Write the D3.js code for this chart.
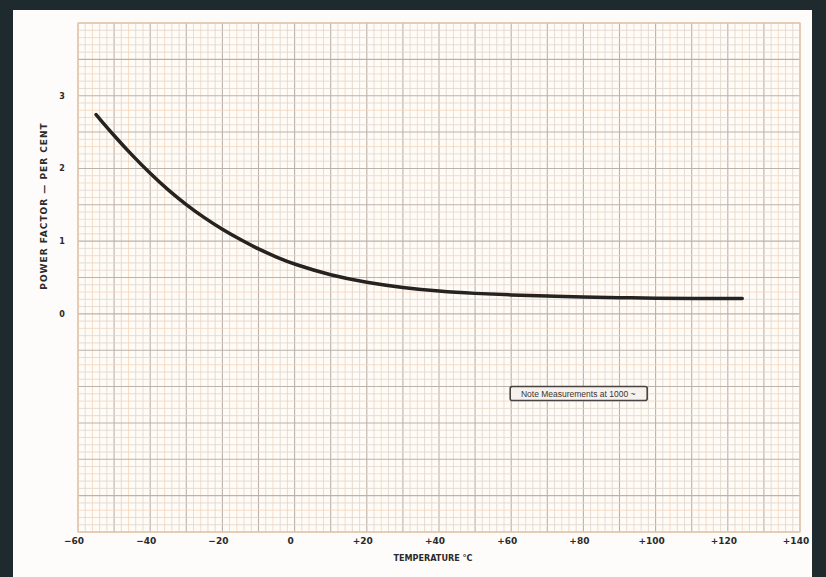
<!DOCTYPE html>
<html>
<head>
<meta charset="utf-8">
<script src="https://cdn.jsdelivr.net/npm/d3@7"></script>
<style>
  body { margin: 0; background: #1f2a2e; }
  svg { display: block; }
</style>
</head>
<body>
<svg id="chart"></svg>
<script>
// chart values
const temps = [-55, -50, -45, -40, -35, -30, -25, -20, -15, -10, -5, 0, 10, 20, 30, 40, 50, 60, 70, 80, 90, 100, 110, 124];
const powerFactor = [2.74, 2.45, 2.18, 1.93, 1.70, 1.50, 1.32, 1.16, 1.02, 0.89, 0.78, 0.68, 0.53, 0.43, 0.36, 0.31, 0.28, 0.26, 0.245, 0.23, 0.222, 0.216, 0.212, 0.21];
const xTicks = [-60, -40, -20, 0, 20, 40, 60, 80, 100, 120, 140];
const xTickLabels = ['\u221260', '\u221240', '\u221220', '0', '+20', '+40', '+60', '+80', '+100', '+120', '+140'];
const yTicks = [0, 1, 2, 3];
const yTickLabels = ['0', '1', '2', '3'];
const noteText = 'Note Measurements at 1000 ~';

const config = { width: 826, height: 577 };
const margin = { top: 23, right: 26, bottom: 45, left: 78 },
  width = config.width - margin.left - margin.right,
  height = config.height - margin.top - margin.bottom;

const svg = d3.select('#chart')
  .attr('width', config.width)
  .attr('height', config.height);

// scanned page: dark scanner bed around a white sheet
svg.append('rect')
  .attr('width', config.width).attr('height', config.height)
  .attr('fill', '#1f2a2e');
svg.append('rect')
  .attr('x', 13).attr('y', 10)
  .attr('width', 799).attr('height', config.height - 10)
  .attr('fill', '#fdfcfa');

const x = d3.scaleLinear().domain([-60, 140]).range([0, width]);
const y = d3.scaleLinear().domain([-3, 4]).range([height, 0]);

const g = svg.append('g').attr('transform', `translate(${margin.left},${margin.top})`);

// graph paper
g.append('rect')
  .attr('width', width).attr('height', height)
  .attr('fill', '#fffbf6');

const minorX = d3.range(-60, 140.1, 2);
const minorY = d3.range(-3, 4.01, 0.1);

g.append('g').selectAll('line')
  .data(minorX)
  .join('line')
  .attr('x1', d => x(d)).attr('x2', d => x(d))
  .attr('y1', 0).attr('y2', height)
  .attr('stroke', (d, i) => i % 5 === 0 ? '#bdb2aa' : (i % 5 === 2 ? '#f2d6bc' : '#e0d5cc'))
  .attr('stroke-width', (d, i) => i % 5 === 0 ? 1.1 : 0.8);

g.append('g').selectAll('line')
  .data(minorY)
  .join('line')
  .attr('x1', 0).attr('x2', width)
  .attr('y1', d => y(d)).attr('y2', d => y(d))
  .attr('stroke', (d, i) => i % 5 === 0 ? '#bdb2aa' : (i % 5 === 3 ? '#f2d6bc' : '#e0d5cc'))
  .attr('stroke-width', (d, i) => i % 5 === 0 ? 1.1 : 0.8);

g.append('rect')
  .attr('width', width).attr('height', height)
  .attr('fill', 'none')
  .attr('stroke', '#ecc7a4')
  .attr('stroke-width', 1.2);

// the curve
const line = d3.line()
  .x(d => x(d[0]))
  .y(d => y(d[1]))
  .curve(d3.curveBasis);

g.append('path')
  .datum(d3.zip(temps, powerFactor))
  .attr('d', line)
  .attr('fill', 'none')
  .attr('stroke', '#26221f')
  .attr('stroke-width', 3.5)
  .attr('stroke-linecap', 'round');

// tick labels
g.append('g').selectAll('text')
  .data(xTicks)
  .join('text')
  .attr('x', d => x(d) - 4)
  .attr('y', height + 12)
  .attr('text-anchor', 'middle')
  .attr('font-family', 'DejaVu Sans, sans-serif')
  .attr('font-weight', 'bold')
  .attr('font-size', 9)
  .attr('fill', '#2b2a28')
  .text((d, i) => xTickLabels[i]);

g.append('g').selectAll('text')
  .data(yTicks)
  .join('text')
  .attr('x', -16)
  .attr('y', d => y(d) + 3)
  .attr('text-anchor', 'middle')
  .attr('font-family', 'DejaVu Sans, sans-serif')
  .attr('font-weight', 'bold')
  .attr('font-size', 8)
  .attr('fill', '#2b2a28')
  .text((d, i) => yTickLabels[i]);

// axis titles
svg.append('text')
  .attr('transform', 'translate(47,206) rotate(-90)')
  .attr('text-anchor', 'middle')
  .attr('font-family', 'DejaVu Sans, sans-serif')
  .attr('font-weight', 'bold')
  .attr('font-size', 9)
  .attr('letter-spacing', 1)
  .attr('fill', '#2b2a28')
  .text('POWER FACTOR \u2014 PER CENT');

svg.append('text')
  .attr('x', 433).attr('y', 561)
  .attr('text-anchor', 'middle')
  .attr('font-family', 'DejaVu Sans Condensed, DejaVu Sans, sans-serif')
  .attr('font-weight', 'bold')
  .attr('font-size', 9)
  .attr('fill', '#2b2a28')
  .text('TEMPERATURE \u00B0C');

// note box
const note = g.append('g').attr('transform', `translate(${x(60) - 1},${y(-1)})`);
note.append('rect')
  .attr('width', 137).attr('height', 14)
  .attr('rx', 2)
  .attr('fill', '#f6f1ec')
  .attr('stroke', '#4a4440')
  .attr('stroke-width', 1.6);
note.append('text')
  .attr('x', 68).attr('y', 10)
  .attr('text-anchor', 'middle')
  .attr('font-family', 'Liberation Sans, sans-serif')
  .attr('font-size', 8.5)
  .attr('fill', '#3a3430')
  .text(noteText);
</script>
</body>
</html>
